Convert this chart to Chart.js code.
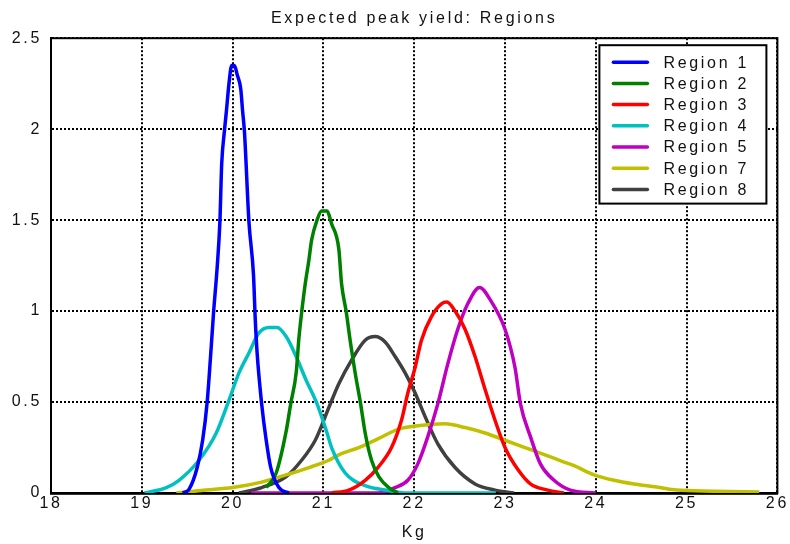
<!DOCTYPE html>
<html>
<head>
<meta charset="utf-8">
<script src="https://cdn.jsdelivr.net/npm/chart.js@4.4.1/dist/chart.umd.min.js"></script>
<style>
  html, body { margin: 0; padding: 0; background: #fff; }
  #wrap { width: 790px; height: 544px; }
</style>
</head>
<body>
<div id="wrap"><canvas id="chart-yield" width="790" height="544"></canvas></div>
<script>
// Curve samples (x in Kg, y density)
const region1X = [19.45, 19.52, 19.61, 19.67, 19.72, 19.76, 19.79, 19.83, 19.86, 19.88, 19.91, 19.93, 19.96, 19.99, 20.02, 20.05, 20.09, 20.11, 20.13, 20.18, 20.23, 20.25, 20.27, 20.32, 20.37, 20.42, 20.51, 20.62];
const region1Y = [0, 0.02, 0.14, 0.29, 0.5, 0.77, 0.99, 1.24, 1.49, 1.81, 1.99, 2.09, 2.25, 2.35, 2.35, 2.3, 2.22, 2.1, 1.99, 1.49, 1.2, 0.95, 0.77, 0.49, 0.29, 0.14, 0.03, 0];

const region2X = [20.37, 20.48, 20.59, 20.64, 20.7, 20.73, 20.76, 20.8, 20.84, 20.87, 20.93, 20.98, 21.04, 21.09, 21.17, 21.2, 21.25, 21.3, 21.35, 21.41, 21.46, 21.53, 21.61, 21.72, 21.82];
const region2Y = [0.03, 0.11, 0.34, 0.49, 0.66, 0.85, 0.99, 1.15, 1.28, 1.39, 1.5, 1.55, 1.55, 1.48, 1.34, 1.15, 1.0, 0.82, 0.66, 0.49, 0.33, 0.18, 0.09, 0.03, 0];

const region3X = [21.09, 21.28, 21.46, 21.6, 21.75, 21.86, 21.93, 22.01, 22.08, 22.19, 22.3, 22.36, 22.45, 22.56, 22.67, 22.78, 22.89, 23.0, 23.14, 23.28, 23.47, 23.65];
const region3Y = [0, 0.016, 0.07, 0.14, 0.25, 0.4, 0.55, 0.69, 0.84, 0.97, 1.04, 1.05, 1.0, 0.9, 0.75, 0.57, 0.4, 0.25, 0.13, 0.05, 0.016, 0];

const region4X = [19.03, 19.27, 19.41, 19.63, 19.82, 19.96, 20.07, 20.18, 20.29, 20.4, 20.49, 20.59, 20.7, 20.81, 20.93, 21.04, 21.09, 21.24, 21.46, 21.68, 21.93, 22.9];
const region4Y = [0, 0.03, 0.07, 0.18, 0.33, 0.51, 0.66, 0.77, 0.88, 0.91, 0.91, 0.86, 0.75, 0.62, 0.49, 0.33, 0.25, 0.11, 0.04, 0.016, 0, 0];

const region5X = [20.2, 21.6, 21.79, 21.93, 22.04, 22.15, 22.26, 22.37, 22.48, 22.59, 22.72, 22.84, 23.0, 23.11, 23.17, 23.28, 23.39, 23.54, 23.72, 24.0];
const region5Y = [0, 0, 0.03, 0.07, 0.16, 0.31, 0.49, 0.71, 0.9, 1.04, 1.13, 1.06, 0.9, 0.69, 0.49, 0.31, 0.16, 0.07, 0.016, 0];

const region7X = [19.38, 19.71, 20.0, 20.32, 20.59, 20.84, 21.06, 21.17, 21.39, 21.61, 21.82, 22.04, 22.34, 22.56, 22.78, 23.0, 23.22, 23.44, 23.65, 23.76, 23.98, 24.2, 24.42, 24.67, 24.89, 25.3, 25.8];
const region7Y = [0, 0.016, 0.03, 0.06, 0.1, 0.14, 0.18, 0.21, 0.25, 0.3, 0.35, 0.37, 0.38, 0.36, 0.33, 0.29, 0.25, 0.21, 0.17, 0.15, 0.1, 0.07, 0.05, 0.033, 0.016, 0.01, 0.005];

const region8X = [20.07, 20.32, 20.59, 20.76, 20.91, 21.06, 21.17, 21.31, 21.46, 21.57, 21.68, 21.79, 21.9, 22.01, 22.12, 22.26, 22.45, 22.67, 22.89, 23.1];
const region8Y = [0, 0.03, 0.09, 0.18, 0.29, 0.47, 0.6, 0.73, 0.84, 0.86, 0.83, 0.75, 0.66, 0.55, 0.42, 0.27, 0.14, 0.05, 0.016, 0];

const regionLabels = ['Region 1', 'Region 2', 'Region 3', 'Region 4', 'Region 5', 'Region 7', 'Region 8'];
const regionColors = ['#0000ff', '#008000', '#ff0000', '#00c0c0', '#c000c0', '#c0c000', '#404040'];
const regionXs = [region1X, region2X, region3X, region4X, region5X, region7X, region8X];
const regionYs = [region1Y, region2Y, region3Y, region4Y, region5Y, region7Y, region8Y];

const xTicks = [18, 19, 20, 21, 22, 23, 24, 25, 26];
const yTicks = [0, 0.5, 1, 1.5, 2, 2.5];

const FONT = { family: 'Arial, "Liberation Sans", sans-serif', size: 16 };
const SPACING = '2.7px';

const spacingPlugin = {
  id: 'spacing',
  beforeUpdate(chart) { chart.ctx.letterSpacing = SPACING; },
  beforeDraw(chart) { chart.ctx.letterSpacing = SPACING; },
  // centre the title over the plot, not the whole canvas
  afterLayout(chart) {
    const t = chart.titleBlock;
    if (!t) return;
    t.left = chart.chartArea.left;
    t.right = chart.chartArea.right;
    t.width = t.right - t.left;
  }
};

// solid frame round the plot
const framePlugin = {
  id: 'frame',
  beforeDatasetsDraw(chart) {
    const { ctx, chartArea: a } = chart;
    ctx.save();
    ctx.strokeStyle = '#000';
    ctx.lineWidth = 2;
    ctx.strokeRect(a.left, a.top, a.right - a.left, a.bottom - a.top);
    ctx.restore();
  }
};

// boxed legend inside the top-right of the plot
const boxLegend = {
  id: 'boxLegend',
  afterDatasetsDraw(chart) {
    const { ctx, chartArea: a } = chart;
    const sets = chart.data.datasets;
    const w = 167, rowH = 21.2;
    const h = sets.length * rowH + 10;
    const left = a.right - 11 - w, top = a.top + 7;
    ctx.save();
    ctx.fillStyle = '#fff';
    ctx.fillRect(left, top, w, h);
    ctx.strokeStyle = '#000';
    ctx.lineWidth = 2;
    ctx.strokeRect(left, top, w, h);
    ctx.font = `${FONT.size}px ${FONT.family}`;
    ctx.textBaseline = 'middle';
    ctx.fillStyle = '#111';
    sets.forEach((ds, i) => {
      const y = top + 17 + i * rowH;
      ctx.strokeStyle = ds.borderColor;
      ctx.lineWidth = 3.5;
      ctx.lineCap = 'round';
      ctx.beginPath();
      ctx.moveTo(left + 14, y);
      ctx.lineTo(left + 48, y);
      ctx.stroke();
      ctx.fillText(ds.label, left + 64, y + 1);
    });
    ctx.restore();
  }
};

new Chart(document.getElementById('chart-yield'), {
  type: 'line',
  data: {
    datasets: regionLabels.map((label, i) => ({
      label,
      data: regionXs[i].map((x, j) => ({ x, y: regionYs[i][j] })),
      borderColor: regionColors[i],
      backgroundColor: regionColors[i],
      borderWidth: 3.5,
      pointRadius: 0,
      cubicInterpolationMode: 'monotone',
      fill: false
    }))
  },
  options: {
    responsive: false,
    animation: false,
    layout: { padding: { left: 0, right: 9, top: 0, bottom: 0 } },
    plugins: {
      legend: { display: false },
      tooltip: { enabled: false },
      title: {
        display: true,
        text: 'Expected peak yield: Regions',
        color: '#111',
        font: { ...FONT, weight: 'normal' },
        padding: { top: 9, bottom: 10 }
      }
    },
    scales: {
      x: {
        type: 'linear',
        min: 18,
        max: 26,
        afterBuildTicks: s => { s.ticks = xTicks.map(v => ({ value: v })); },
        afterFit: s => { s.height = 51; },
        grid: { color: '#000', lineWidth: 2, drawTicks: false },
        border: { display: true, color: '#333', width: 3, dash: [2, 2] },
        ticks: { color: '#111', font: FONT, padding: 1, maxRotation: 0, callback: v => String(v) },
        title: { display: true, text: 'Kg', color: '#111', font: FONT, padding: { top: 0, bottom: 2 } }
      },
      y: {
        min: 0,
        max: 2.5,
        afterBuildTicks: s => { s.ticks = yTicks.map(v => ({ value: v })); },
        afterFit: s => { s.width = 51; },
        grid: { color: '#000', lineWidth: 2, drawTicks: false },
        border: { display: true, color: '#000', width: 2, dash: [2, 2] },
        ticks: { color: '#111', font: FONT, padding: 9, callback: v => String(v) }
      }
    }
  },
  plugins: [spacingPlugin, framePlugin, boxLegend]
});
</script>
</body>
</html>
